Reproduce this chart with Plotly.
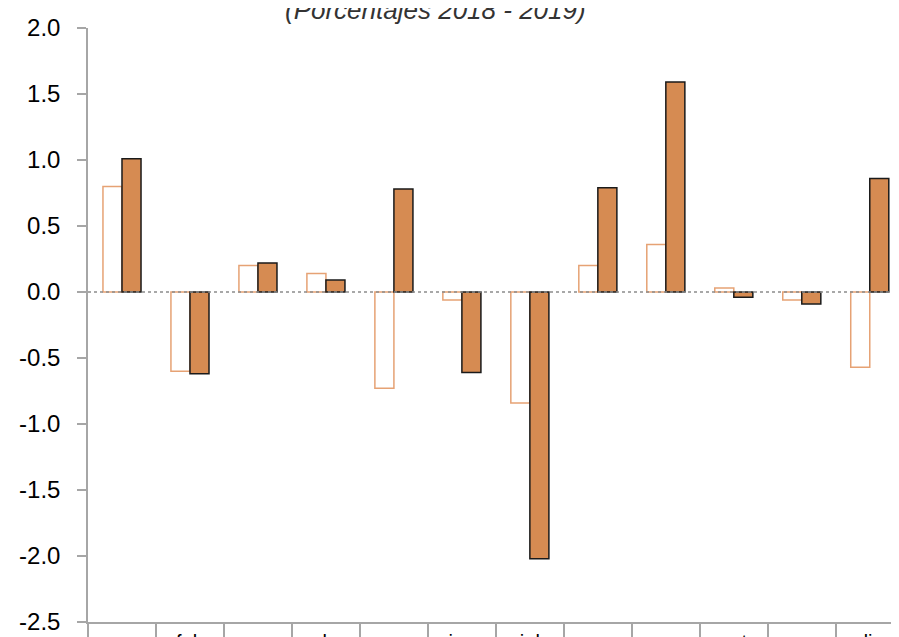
import plotly.graph_objects as go

months = ["ene", "feb", "mar", "abr", "may", "jun", "jul", "ago", "sep", "oct", "nov", "dic"]
serie_2018 = [0.80, -0.60, 0.20, 0.14, -0.73, -0.06, -0.84, 0.20, 0.36, 0.03, -0.06, -0.57]
serie_2019 = [1.01, -0.62, 0.22, 0.09, 0.78, -0.61, -2.02, 0.79, 1.59, -0.04, -0.09, 0.86]
y_ticks = [2.0, 1.5, 1.0, 0.5, 0.0, -0.5, -1.0, -1.5, -2.0, -2.5]
title_text = "(Porcentajes 2018 - 2019)"

FONT = "Liberation Sans, Arial, sans-serif"

fig = go.Figure()
fig.add_trace(go.Bar(
    x=months, y=serie_2018, name="2018",
    marker=dict(color="white", line=dict(color="#E6A274", width=1.5)),
))
fig.add_trace(go.Bar(
    x=months, y=serie_2019, name="2019",
    marker=dict(color="#D68B52", line=dict(color="#1a1a1a", width=1.5)),
))

fig.add_shape(type="line", xref="paper", yref="y", x0=0, x1=1, y0=0, y1=0,
              line=dict(color="#8c8c8c", width=1.5, dash="dot"), layer="above")

fig.add_annotation(text="<i>" + title_text + "</i>", xref="paper", yref="paper",
                   x=(435 - 88) / 811, y=1, yshift=1, yanchor="bottom",
                   showarrow=False, font=dict(family=FONT, size=26, color="#333333"))

fig.update_layout(
    width=891, height=629,
    margin=dict(l=80, r=0, t=20, b=15),
    paper_bgcolor="white", plot_bgcolor="white",
    barmode="group", bargap=0.44, bargroupgap=0,
    showlegend=False,
    font=dict(family=FONT, color="black"),
)
fig.update_xaxes(
    type="category", range=[-0.5, 11.43],
    showline=True, linecolor="#a6a6a6", linewidth=1.5,
    ticks="outside", tickson="boundaries", ticklen=15, tickcolor="#a6a6a6", tickwidth=1.5,
    tickfont=dict(family=FONT, size=20, color="black"),
    ticklabelstandoff=1,
    showgrid=False, automargin=False,
)
fig.update_yaxes(
    range=[-2.5, 2.0], tickvals=y_ticks, ticktext=[f"{v:.1f}" for v in y_ticks],
    showline=True, linecolor="#a6a6a6", linewidth=1.5,
    ticks="outside", ticklen=9, tickcolor="#a6a6a6", tickwidth=1.5,
    tickfont=dict(family=FONT, size=24, color="black"),
    ticklabelstandoff=12,
    showgrid=False, zeroline=False, automargin=False,
)

fig.write_html("out.html")
